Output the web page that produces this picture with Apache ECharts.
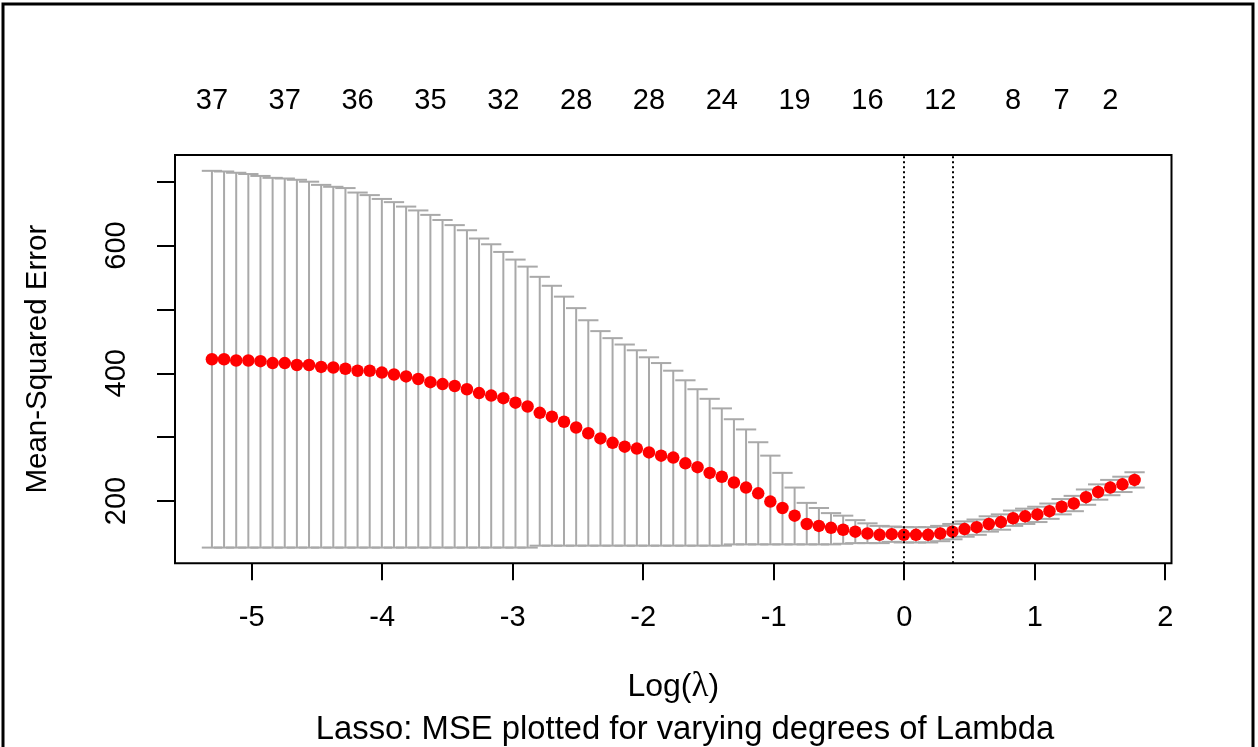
<!DOCTYPE html>
<html>
<head>
<meta charset="utf-8">
<script src="https://cdn.jsdelivr.net/npm/echarts@6/dist/echarts.min.js"></script>
<style>
html,body{margin:0;padding:0;background:#fff;}
#chart{width:1258px;height:747px;}
</style>
</head>
<body>
<div id="chart"></div>
<script>
// log(lambda) at each fitted lambda
const logLambda = [
 -5.305,-5.212,-5.119,-5.026,-4.933,-4.840,-4.747,-4.654,-4.561,-4.468,
 -4.375,-4.282,-4.189,-4.096,-4.003,-3.910,-3.817,-3.724,-3.631,-3.538,
 -3.445,-3.351,-3.258,-3.165,-3.072,-2.979,-2.886,-2.793,-2.700,-2.607,
 -2.514,-2.421,-2.328,-2.235,-2.142,-2.049,-1.956,-1.863,-1.770,-1.677,
 -1.584,-1.491,-1.398,-1.305,-1.212,-1.119,-1.026,-0.933,-0.840,-0.747,
 -0.654,-0.561,-0.468,-0.375,-0.282,-0.189,-0.096,-0.003,0.090,0.183,
 0.276,0.369,0.462,0.555,0.648,0.741,0.834,0.927,1.020,1.113,
 1.206,1.299,1.393,1.486,1.579,1.672,1.765
];
// cross-validated mean squared error
const cvMean = [
 422,422,420,420,419,416,416,413,413,410,
 409,407,404,404,401,398,395,391,386,383,
 380,375,369,365,361,354,348,338,332,324,
 315,306,298,291,285,282,276,271,268,259,
 253,244,238,229,221,212,199,189,177,164,
 161,158,155,152,149,147,148,147,147,147,
 149,152,156,159,164,167,173,176,179,184,
 191,196,206,214,221,226,233
];
// upper error bar (mean + sd)
const cvUpper = [
 717,716,714,712,709,706,705,703,700,695,
 692,690,683,679,673,668,661,655,648,640,
 632,624,611,602,590,578,567,551,537,520,
 502,483,466,455,445,436,425,416,404,389,
 375,360,345,328,312,292,271,244,221,197,
 189,181,177,170,165,161,160,159,159,159,
 161,164,168,171,176,179,185,188,191,196,
 203,208,218,226,233,238,245
];
// lower error bar (mean - sd)
const cvLower = [
 127,127,127,127,127,127,127,127,127,127,
 127,127,127,127,127,127,127,127,127,127,
 127,127,127,127,127,127,127,130,130,130,
 130,130,130,130,130,130,130,130,130,130,
 130,130,130,132,132,132,132,132,132,132,
 132,132,133,134,134,134,136,135,135,135,
 137,140,144,147,152,155,161,164,167,172,
 179,184,194,202,209,214,221
];
// number of non-zero coefficients shown on top axis (index into logLambda)
const nzIndex  = [0,6,12,18,24,30,36,42,48,54,60,66,70,74];
const nzLabels = ['37','37','36','35','32','28','28','24','19','16','12','8','7','2'];
const xTicks = [-5,-4,-3,-2,-1,0,1,2];
const yTicks = [200,300,400,500,600,700];
const yTickLabels = [200,400,600];
const lambdaLines = [-0.003, 0.369]; // lambda.min, lambda.1se

const FONT = 'Liberation Sans, Arial, sans-serif';
const xMin = -5.588, xMax = 2.048, yMin = 102.4, yMax = 741.8;
const barW = 0.011 * (logLambda[logLambda.length-1] - logLambda[0]);

const chart = echarts.init(document.getElementById('chart'), null, {renderer:'canvas'});
const nzValues = nzIndex.map(i => logLambda[i]);

chart.setOption({
  animation: false,
  backgroundColor: '#ffffff',
  textStyle: {fontFamily: FONT},
  title: {
    text: 'Lasso: MSE plotted for varying degrees of Lambda',
    left: 680, top: 708, textAlign: 'center',
    textStyle: {fontFamily: FONT, fontSize: 32.8, fontWeight: 'normal', color: '#000'}
  },
  graphic: [{
    type: 'rect', silent: true,
    shape: {x: 3, y: 4, width: 1250, height: 800},
    style: {fill: 'none', stroke: '#000', lineWidth: 3}
  }],
  grid: {left: 175, right: 86.5, top: 155, bottom: 183.7, show: true,
         borderColor: '#000', borderWidth: 2, backgroundColor: 'transparent'},
  xAxis: [{
    type: 'value', min: xMin, max: xMax, position: 'bottom',
    axisLine: {show: false, onZero: false},
    splitLine: {show: false},
    axisTick: {show: true, customValues: xTicks, length: 17, lineStyle: {color: '#000', width: 2}},
    axisLabel: {customValues: xTicks, margin: 40, fontSize: 29, color: '#000', fontFamily: FONT},
    name: 'Log({l|λ})', nameLocation: 'middle', nameGap: 106,
    nameTextStyle: {fontSize: 32, color: '#000', fontFamily: FONT,
      rich: {l: {fontFamily: 'Liberation Serif, DejaVu Serif, serif', fontSize: 35, color: '#000'}}}
  }, {
    type: 'value', min: xMin, max: xMax, position: 'top',
    axisLine: {show: false, onZero: false}, splitLine: {show: false}, axisTick: {show: false},
    axisLabel: {customValues: nzValues, margin: 40, fontSize: 29, color: '#000', fontFamily: FONT,
      formatter: function (v) {
        const k = nzValues.findIndex(x => Math.abs(x - v) < 1e-6);
        return k >= 0 ? nzLabels[k] : '';
      }}
  }],
  yAxis: {
    type: 'value', min: yMin, max: yMax, position: 'left',
    axisLine: {show: false, onZero: false}, splitLine: {show: false},
    axisTick: {show: true, customValues: yTicks, length: 18, lineStyle: {color: '#000', width: 2}},
    axisLabel: {customValues: yTickLabels, rotate: 90, margin: 44, fontSize: 29, color: '#000', fontFamily: FONT},
    name: 'Mean-Squared Error', nameLocation: 'middle', nameGap: 122, nameRotate: 90,
    nameTextStyle: {fontSize: 29.5, color: '#000', fontFamily: FONT}
  },
  series: [{
    type: 'custom',
    xAxisIndex: 0,
    data: logLambda.map((x, i) => [x, cvLower[i], cvUpper[i]]),
    encode: {x: 0, y: [1, 2]},
    renderItem: function (params, api) {
      const x = api.value(0), lo = api.value(1), up = api.value(2);
      const pt = api.coord([x, up]);
      const pb = api.coord([x, lo]);
      const w = api.size([barW, 0])[0];
      const st = {stroke: '#A9A9A9', lineWidth: 2, fill: 'none'};
      return {type: 'group', children: [
        {type: 'line', shape: {x1: pt[0], y1: pt[1], x2: pb[0], y2: pb[1]}, style: st},
        {type: 'line', shape: {x1: pt[0]-w, y1: pt[1], x2: pt[0]+w, y2: pt[1]}, style: st},
        {type: 'line', shape: {x1: pb[0]-w, y1: pb[1], x2: pb[0]+w, y2: pb[1]}, style: st}
      ]};
    },
    z: 2
  }, {
    type: 'scatter',
    xAxisIndex: 0,
    data: logLambda.map((x, i) => [x, cvMean[i]]),
    symbol: 'circle', symbolSize: 12.5,
    itemStyle: {color: '#FF0000', opacity: 1},
    z: 3,
    markLine: {
      silent: true, symbol: ['none', 'none'],
      label: {show: false},
      lineStyle: {color: '#000', type: [2, 3], width: 2},
      data: lambdaLines.map(v => ({xAxis: v}))
    }
  }]
});
</script>
</body>
</html>
